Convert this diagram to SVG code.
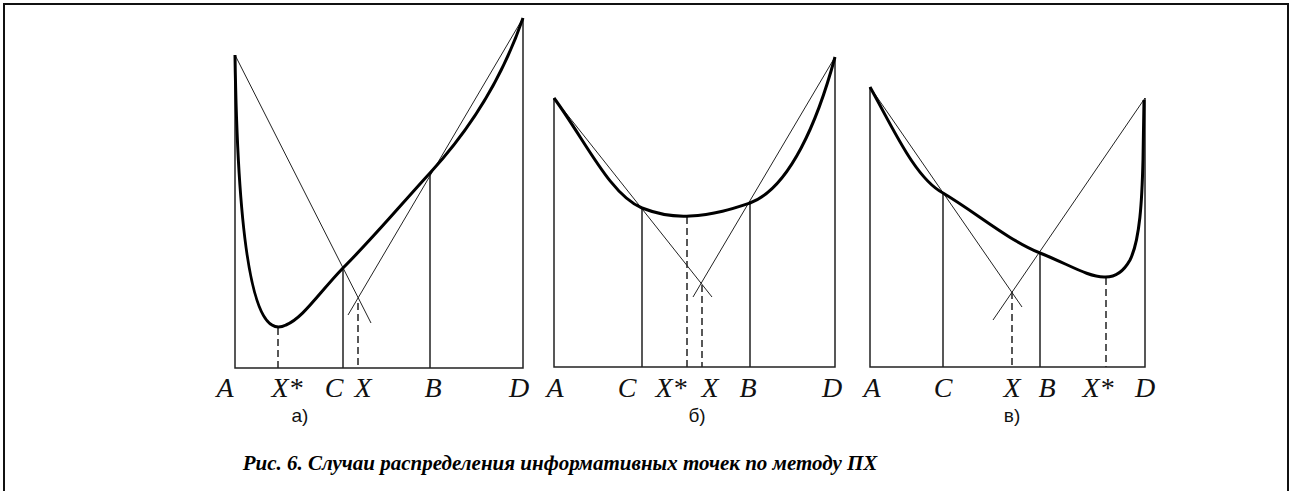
<svg xmlns="http://www.w3.org/2000/svg" width="1290" height="491" viewBox="0 0 1290 491">
<style>
.frame{fill:none;stroke:#111;stroke-width:2}
.ax{fill:none;stroke:#222;stroke-width:1.5}
.thin{fill:none;stroke:#222;stroke-width:1}
.dash{fill:none;stroke:#222;stroke-width:1.5;stroke-dasharray:7,4}
.curve{fill:none;stroke:#000;stroke-width:3;stroke-linejoin:round}
.lbl{font-family:"Liberation Serif",serif;font-style:italic;font-size:28px;fill:#111;text-anchor:middle}
.sub{font-family:"Liberation Sans",sans-serif;font-size:19px;fill:#111;text-anchor:middle}
.cap{font-family:"Liberation Serif",serif;font-style:italic;font-weight:bold;font-size:21px;fill:#000;text-anchor:middle}
</style>
<rect x="0" y="0" width="1290" height="491" fill="#fff"/>
<rect class="frame" x="4" y="4" width="1284" height="520"/>

<g id="panel-a">
<path class="ax" d="M235,55 V368 H523 V18"/>
<path class="ax" d="M343,268 V368 M430,173 V368"/>
<path class="dash" d="M278,328 V368 M358,303 V368"/>
<path class="thin" d="M235,55 L371,323 M523,18 L348,315"/>
<path class="curve" d="M235,55 C237,190 246,310 272,325 Q278,329 286,325 C303,318 318,294 343,268 C375,236 405,200 430,173 C465,135 500,85 523,18"/>
<text class="lbl" x="225" y="397">A</text>
<text class="lbl" x="287" y="397">X*</text>
<text class="lbl" x="334" y="397">C</text>
<text class="lbl" x="363" y="397">X</text>
<text class="lbl" x="433" y="397">B</text>
<text class="lbl" x="519" y="397">D</text>
<text class="sub" x="300" y="422">а)</text>
</g>

<g id="panel-b">
<path class="ax" d="M554,98 V367 H835 V57"/>
<path class="ax" d="M642,208 V367 M750,203 V367"/>
<path class="dash" d="M687,217 V367 M702,285 V367"/>
<path class="thin" d="M554,98 L712,297 M835,57 L693,297"/>
<path class="curve" d="M554,98 C585,140 610,195 642,208 C660,215 675,217 690,216 C715,215 735,208 750,203 C790,188 818,120 835,57"/>
<text class="lbl" x="555" y="397">A</text>
<text class="lbl" x="627" y="397">C</text>
<text class="lbl" x="671" y="397">X*</text>
<text class="lbl" x="710" y="397">X</text>
<text class="lbl" x="748" y="397">B</text>
<text class="lbl" x="832" y="397">D</text>
<text class="sub" x="697" y="422">б)</text>
</g>

<g id="panel-c">
<path class="ax" d="M870,87 V367 H1145 V98"/>
<path class="ax" d="M943,193 V367 M1040,253 V367"/>
<path class="dash" d="M1012,292 V367 M1106,278 V367"/>
<path class="thin" d="M870,87 L1022,307 M1145,98 L993,320"/>
<path class="curve" d="M870,87 C893,128 915,178 943,193 C978,214 1008,240 1040,253 C1068,264 1088,277 1104,277 Q1120,278 1130,260 C1140,240 1142,200 1143,160 L1144,100"/>
<text class="lbl" x="872" y="397">A</text>
<text class="lbl" x="943" y="397">C</text>
<text class="lbl" x="1012" y="397">X</text>
<text class="lbl" x="1047" y="397">B</text>
<text class="lbl" x="1098" y="397">X*</text>
<text class="lbl" x="1145" y="397">D</text>
<text class="sub" x="1012" y="422">в)</text>
</g>

<text class="cap" x="560" y="470">Рис. 6. Случаи распределения информативных точек по методу ПХ</text>
</svg>
